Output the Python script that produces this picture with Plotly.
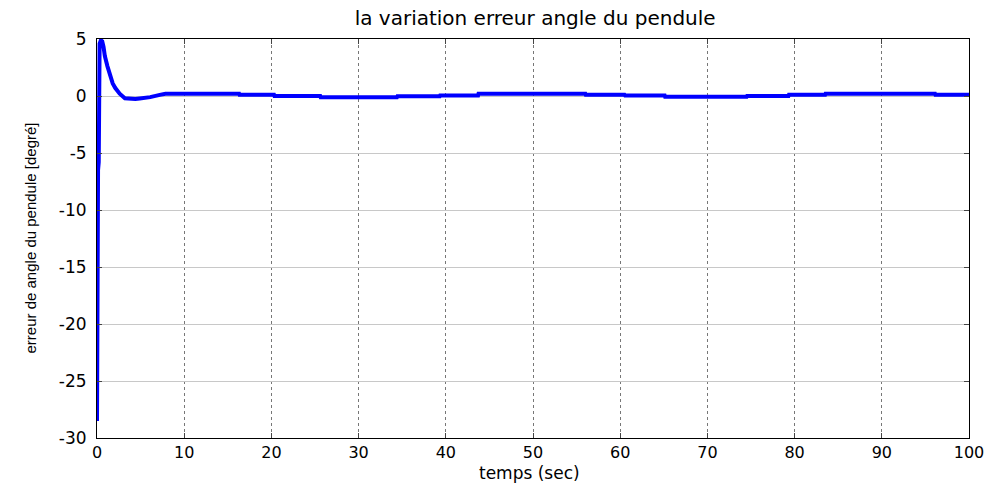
import plotly.graph_objects as go

# transient part (time in sec, error in degrees)
t_transient = [0.0, 0.05, 0.12, 0.2, 0.3, 0.45, 0.6, 0.75, 0.9, 1.2, 1.5, 1.8, 2.1, 2.6, 3.2, 3.8, 4.4, 4.9, 6.1, 7.2, 7.8]
e_transient = [-28.5, -12.0, -6.5, -5.8, 4.6, 4.9, 4.8, 4.3, 3.5, 2.6, 1.75, 1.1, 0.7, 0.2, -0.2, -0.27, -0.27, -0.22, -0.1, 0.1, 0.2]

# quasi-steady part: step start times and levels
t_steps = [7.8, 16.3, 20.3, 25.6, 34.4, 39.3, 43.7, 56.0, 60.5, 65.1, 74.5, 79.3, 83.5, 96.1]
e_steps = [0.2, 0.1, 0.0, -0.1, -0.03, 0.05, 0.2, 0.1, 0.05, -0.07, 0.0, 0.1, 0.2, 0.1]
t_end = 100.0

x_tick_vals = [0, 10, 20, 30, 40, 50, 60, 70, 80, 90, 100]
x_tick_text = ["0", "10", "20", "30", "40", "50", "60", "70", "80", "90", "100"]
y_tick_vals = [-30, -25, -20, -15, -10, -5, 0, 5]
y_tick_text = ["-30", "-25", "-20", "-15", "-10", "-5", "0", "5"]

# build the full series
t_all = list(t_transient)
e_all = list(e_transient)
bounds = t_steps[1:] + [t_end]
for ts, te, v in zip(t_steps, bounds, e_steps):
    t_all += [ts + 0.05, te]
    e_all += [v, v]

fig = go.Figure()
fig.add_trace(go.Scatter(x=t_all, y=e_all, mode="lines",
                         line=dict(color="#0000ff", width=4), showlegend=False))

font_fam = "DejaVu Sans, Verdana, sans-serif"
plot_w, plot_h = 872, 399
fig.update_layout(
    width=991, height=483,
    margin=dict(l=97, r=22, t=39, b=45, autoexpand=False),
    paper_bgcolor="white", plot_bgcolor="white",
    font=dict(family=font_fam, size=17, color="black"),
    title=dict(text="la variation erreur angle du pendule", x=0.54, xanchor="center",
               y=1 - 18 / 483, yanchor="middle", font=dict(size=20)),
    annotations=[
        dict(text="temps (sec)", xref="paper", yref="paper", x=0.496, y=-35 / plot_h,
             xanchor="center", yanchor="middle", showarrow=False, borderpad=0,
             font=dict(size=17)),
        dict(text="erreur de angle du pendule [degré]", xref="paper", yref="paper",
             x=-67 / plot_w, y=0.5, xanchor="center", yanchor="middle", textangle=-90,
             showarrow=False, font=dict(size=15, family="Liberation Sans, Arial, sans-serif")),
    ],
)
fig.update_xaxes(
    range=[0, 100], tickvals=x_tick_vals, ticktext=x_tick_text,
    ticks="inside", ticklen=5, automargin=False,
    showline=True, linecolor="black", linewidth=1, mirror="ticks",
    showgrid=True, gridcolor="#777777", griddash="dot", gridwidth=1,
    zeroline=False, tickfont=dict(size=16), ticklabelstandoff=0,
)
fig.update_yaxes(
    range=[-30, 5], tickvals=y_tick_vals, ticktext=y_tick_text,
    ticks="inside", ticklen=5, automargin=False,
    showline=True, linecolor="black", linewidth=1, mirror="ticks",
    showgrid=True, gridcolor="#c8c8c8", gridwidth=1,
    zeroline=False, tickfont=dict(size=17), ticklabelstandoff=6,
)

fig.write_html("out.html")
